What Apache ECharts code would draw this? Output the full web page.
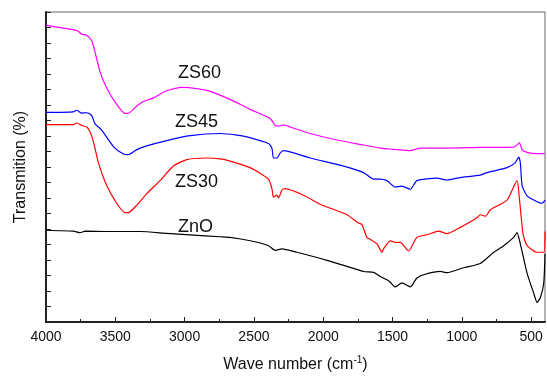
<!DOCTYPE html>
<html>
<head>
<meta charset="utf-8">
<script src="https://cdn.jsdelivr.net/npm/echarts@6/dist/echarts.min.js"></script>
<style>
  html, body { margin: 0; padding: 0; background: #fff; }
  #main { width: 547px; height: 378px; }
</style>
</head>
<body>
<div id="main"></div>
<script>
// tick positions (cm-1)
var majorTicks = [4000, 3500, 3000, 2500, 2000, 1500, 1000, 500];
var minorTicks = [3750, 3250, 2750, 2250, 1750, 1250, 750];

// ZS60 (magenta)
var zs60Wn = [4000,3803,3767,3742,3706,3670,3646,3610,3562,3490,3430,3406,3357,3298,3225,3129,3020,2912,2816,2672,2527,2395,2370,2347,2323,2287,2238,2094,1901,1709,1589,1516,1468,1372,1300,1107,867,626,602,585,565,529,457,400];
var zs60T = [95.7,94.3,93.8,92.8,92.5,90.7,87.0,80.7,75.5,70.2,67.3,67.3,69.2,71.1,72.3,74.6,75.7,75.3,74.4,71.8,68.6,66.0,65.0,63.4,63.2,63.6,62.9,60.8,58.7,57.1,56.1,55.8,55.6,55.3,56.1,56.1,56.3,56.4,57.1,57.9,55.6,54.7,54.3,54.3];

// ZS45 (blue)
var zs45Wn = [4000,3803,3778,3742,3706,3670,3646,3598,3514,3442,3406,3345,3273,3129,2960,2744,2623,2551,2395,2370,2359,2334,2311,2287,2094,1853,1709,1637,1589,1540,1480,1432,1372,1324,1179,1107,1011,867,818,674,614,590,578,565,529,457,421,400];
var zs45T = [67.6,67.8,68.3,67.4,67.5,66.6,63.9,61.9,56.6,54.2,54.0,55.6,56.8,58.5,60.1,60.8,60.3,59.7,57.6,56.1,52.9,52.9,54.5,55.3,52.9,50.3,48.2,46.1,46.1,45.6,43.5,43.8,42.8,45.6,46.4,45.8,46.6,47.4,48.2,49.8,51.4,53.2,51.4,44.0,40.7,38.8,38.3,39.3];

// ZS30 (red)
var zs30Wn = [4000,3803,3778,3742,3706,3682,3658,3622,3562,3490,3430,3406,3345,3273,3177,3081,2984,2840,2744,2672,2527,2395,2370,2359,2334,2323,2298,2274,2142,2022,1829,1750,1721,1685,1661,1612,1576,1565,1516,1480,1444,1384,1324,1240,1168,1107,1035,963,891,867,830,794,674,602,585,558,529,457,409,400];
var zs30T = [63.7,63.7,64.2,63.4,62.9,61.3,58.2,51.4,44.0,38.3,35.3,35.3,37.7,41.4,45.6,50.3,52.4,52.9,52.6,51.9,49.8,46.1,43.0,40.3,40.9,40.0,42.5,43.0,40.9,38.0,34.6,32.0,31.4,27.3,26.7,25.2,22.5,23.6,26.2,25.7,25.7,22.9,27.3,28.3,29.3,28.5,29.9,31.7,33.6,34.6,34.1,36.2,39.3,45.6,40.0,28.3,24.6,22.5,22.5,29.2];

// ZnO (black)
var znoWn = [4000,3803,3755,3718,3562,3321,3129,2960,2744,2672,2527,2395,2347,2298,2190,1973,1709,1637,1589,1540,1516,1480,1432,1372,1324,1264,1155,1107,987,867,770,698,626,602,578,529,482,457,433,409,400];
var znoT = [29.6,29.3,28.8,29.3,29.2,29.2,28.6,28.1,27.5,27.3,26.2,24.6,23.1,23.6,22.5,19.9,16.3,16.0,14.7,13.6,12.8,11.3,12.6,11.3,14.2,15.4,16.3,15.9,17.5,18.9,22.5,24.6,27.3,28.8,25.2,15.7,9.4,6.3,7.9,12.6,22.0];

function zip(xs, ys) {
  return xs.map(function (x, i) { return [x, ys[i]]; });
}

function lineSeries(name, xs, ys, color) {
  return {
    name: name,
    type: 'line',
    xAxisIndex: 0,
    data: zip(xs, ys),
    showSymbol: false,
    smooth: 0.2,
    animation: false,
    lineStyle: { color: color, width: 1.2 }
  };
}

var FONT = '"Liberation Sans", Arial, sans-serif';

var chart = echarts.init(document.getElementById('main'), null, { renderer: 'canvas' });

var option = {
  backgroundColor: '#fff',
  animation: false,
  grid: {
    left: 46, right: 2, top: 12, bottom: 48,
    show: true, borderColor: '#666', borderWidth: 1
  },
  xAxis: [{
    type: 'value',
    min: 400, max: 4000,
    inverse: true,
    position: 'bottom',
    name: '{a|Wave number (cm}{s|-1}{a|)}',
    nameLocation: 'middle',
    nameGap: 33,
    nameTextStyle: {
      rich: {
        a: { fontFamily: FONT, fontSize: 16, color: '#111', lineHeight: 20 },
        s: { fontFamily: FONT, fontSize: 10, color: '#111', verticalAlign: 'top', lineHeight: 20, padding: [0, 0, 8, 0] }
      }
    },
    axisLine: { lineStyle: { color: '#222', width: 2 } },
    axisTick: { inside: true, length: 5, customValues: majorTicks, lineStyle: { color: '#222', width: 1 } },
    axisLabel: {
      customValues: majorTicks, margin: 8, fontFamily: FONT, fontSize: 14, color: '#111',
      formatter: function (v) { return String(v); }
    },
    splitLine: { show: false }
  }, {
    type: 'value',
    min: 400, max: 4000,
    inverse: true,
    position: 'bottom',
    axisLine: { show: false },
    axisTick: { inside: true, length: 3, customValues: minorTicks, lineStyle: { color: '#222', width: 1 } },
    axisLabel: { show: false },
    splitLine: { show: false }
  }],
  yAxis: {
    type: 'value',
    min: 0, max: 100, interval: 5,
    name: 'Transmition (%)',
    nameLocation: 'middle',
    nameGap: 17,
    nameTextStyle: { fontFamily: FONT, fontSize: 16, color: '#111' },
    axisLine: { show: true, lineStyle: { color: '#222', width: 2 } },
    axisTick: { inside: true, length: 5, lineStyle: { color: '#222', width: 1 } },
    axisLabel: { show: false },
    splitLine: { show: false }
  },
  graphic: [
    { type: 'text', left: 178, top: 64, style: { text: 'ZS60', font: '18px ' + FONT, fill: '#111' } },
    { type: 'text', left: 175, top: 113, style: { text: 'ZS45', font: '18px ' + FONT, fill: '#111' } },
    { type: 'text', left: 175, top: 173, style: { text: 'ZS30', font: '18px ' + FONT, fill: '#111' } },
    { type: 'text', left: 178, top: 218, style: { text: 'ZnO', font: '18px ' + FONT, fill: '#111' } }
  ],
  series: [
    lineSeries('ZS60', zs60Wn, zs60T, '#ff00ff'),
    lineSeries('ZS45', zs45Wn, zs45T, '#0000ff'),
    lineSeries('ZS30', zs30Wn, zs30T, '#ff0000'),
    lineSeries('ZnO', znoWn, znoT, '#000000')
  ]
};

chart.setOption(option);
</script>
</body>
</html>
